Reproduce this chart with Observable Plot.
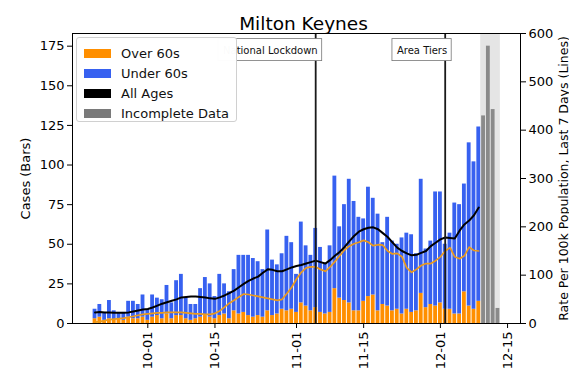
<!DOCTYPE html>
<html>
<head>
<meta charset="utf-8">
<script src="https://cdn.jsdelivr.net/npm/d3@7"></script>
<script src="https://cdn.jsdelivr.net/npm/@observablehq/plot@0.6"></script>
<style>
  body { margin: 0; background: #fff; font-family: "DejaVu Sans", sans-serif; }
  #wrap { position: relative; width: 569px; height: 375px; }
  #legend { position: absolute; left: 76px; top: 37px; width: 161px; height: 85px;
    background: rgba(255,255,255,0.98); border: 1px solid #d0d0d0; border-radius: 3px;
    box-sizing: border-box; font-size: 13px; color: #111; }
  .item { position: absolute; left: 7px; height: 14px; display: flex; align-items: center; white-space: nowrap; }
  .sw { width: 27px; height: 9px; margin-right: 10px; }
</style>
</head>
<body>
<div id="wrap"><div id="legend"></div></div>
<script>
// ---- data ----
const startDate = "2020-09-20";   // first daily bar
const totalCases = [
  9, 12, 7, 14.5, 8, 7, 7, 14, 14, 12,
  18, 9, 18, 16, 15, 24, 13, 27, 31, 16,
  12, 12, 22, 29, 25, 17, 31, 25, 20, 34,
  43, 43, 43, 41, 39, 34, 59, 40, 37, 44,
  55, 51, 31, 64, 49, 43, 60, 48, 38, 49,
  93, 61, 75, 91, 77, 67, 66, 86, 79, 69,
  51, 67, 52, 50, 54, 57, 56, 44, 91, 47,
  52, 83, 83, 50, 57, 76, 75, 88, 114, 102,
  124];
const over60Cases = [
  3, 4, 2, 3, 2, 3, 2, 4, 3, 3,
  4, 2, 4, 5, 3, 6, 3, 5, 5, 3,
  2, 3, 4, 5, 4, 3, 5, 6, 3, 8,
  6, 7, 5, 4, 5, 4, 8, 5, 6, 9,
  8, 9, 7, 13, 11, 8, 10, 7, 6, 7,
  22, 16, 14.5, 13, 8, 8, 14, 17, 18, 8,
  12, 11, 8, 9, 6, 9, 7, 8, 19, 10,
  12, 11, 13, 9, 9, 6, 6, 20, 11, 9,
  14];
const rateAllAges = [
  23, 24, 23, 23, 22, 22, 22, 23, 25, 27,
  29, 30, 33, 37, 41, 44, 47, 50, 54, 55,
  56, 56, 55, 54, 52, 51, 54, 58, 63, 68,
  75, 82, 88, 93, 97, 105, 112, 111, 108, 108,
  112, 116, 119, 121, 124, 127, 130, 127, 124, 131,
  140, 148, 158, 170, 181, 190, 195, 198, 199, 195,
  187, 179, 168, 157, 150, 145, 141, 142, 146, 150,
  160, 167, 174, 178, 177, 176, 192, 205, 213, 224,
  240];
const rateOver60 = [
  3, 4, 6, 8, 9, 10, 11, 13, 15, 17,
  19, 20, 21, 22, 22, 23, 23, 23, 23, 22,
  21, 20, 20, 19, 19, 21, 26, 34, 42, 48,
  55, 61, 60, 58, 56, 54, 52, 50, 48, 50,
  62, 75, 92, 106, 115, 117, 117, 112, 108, 117,
  128, 140, 152, 160, 165, 168, 172, 168, 161, 163,
  162, 150, 144, 145, 138, 115, 106, 112, 120, 124,
  124, 130, 138, 150, 157, 138, 134, 140, 158, 151,
  150];
const incompleteDates = ["2020-12-10", "2020-12-11", "2020-12-12", "2020-12-13"];
const incompleteCases = [131, 175, 135, 9.5];
const eventDates = ["2020-11-05", "2020-12-02"];
const eventLabels = ["National Lockdown", "Area Tiers"];
const xTickDates = ["2020-10-01", "2020-10-15", "2020-11-01", "2020-11-15", "2020-12-01", "2020-12-15"];
const leftTicks = [0, 25, 50, 75, 100, 125, 150, 175];
const rightTicks = [0, 100, 200, 300, 400, 500, 600];
const legendLabels = ["Over 60s", "Under 60s", "All Ages", "Incomplete Data"];
const legendColors = ["#ff8f00", "#3761f0", "#000000", "#7a7a7a"];

// ---- build ----
const parse = d3.utcParse("%Y-%m-%d");
const DAY = 864e5;
const yMax = 183;            // left axis top
const rightMax = 600;        // right axis top
const K = yMax / rightMax;   // right -> left scale factor
const half = 0.4 * DAY;

const start = parse(startDate);
const daily = totalCases.map((t, i) => ({
  date: new Date(+start + i * DAY), total: t, over: over60Cases[i],
  all: rateAllAges[i], o60: rateOver60[i]
}));
const incomplete = incompleteDates.map((d, i) => ({ date: parse(d), total: incompleteCases[i] }));
const events = eventDates.map((d, i) => ({ date: parse(d), label: eventLabels[i] }));
const span = [{ x1: new Date(+parse(incompleteDates[0]) - 0.6 * DAY), x2: new Date(+parse(incompleteDates[3]) + 0.5 * DAY) }];

const x1 = d => new Date(+d.date - half);
const x2 = d => new Date(+d.date + half);

const chart = Plot.plot({
  width: 569, height: 375,
  marginLeft: 72, marginRight: 49, marginTop: 33, marginBottom: 52,
  style: { fontFamily: "'DejaVu Sans', sans-serif", fontSize: "13px", color: "#000", background: "#fff", overflow: "visible" },
  x: { type: "utc", domain: [new Date(+parse("2020-09-15") + 0.3 * DAY), new Date(+parse("2020-12-17") + 0.7 * DAY)] },
  y: { domain: [0, yMax] },
  marks: [
    Plot.rect(span, { x1: "x1", x2: "x2", y1: 0, y2: yMax, fill: "#cfcfcf", fillOpacity: 0.55 }),
    Plot.rect(daily, { x1, x2, y1: 0, y2: "over", fill: legendColors[0] }),
    Plot.rect(daily, { x1, x2, y1: "over", y2: "total", fill: legendColors[1] }),
    Plot.rect(incomplete, { x1, x2, y1: 0, y2: "total", fill: "#8a8a8a" }),
    Plot.line(daily, { x: "date", y: d => d.o60 * K, stroke: "#eb9a1c", strokeWidth: 1.7 }),
    Plot.line(daily, { x: "date", y: d => d.all * K, stroke: "#000", strokeWidth: 2 }),
    Plot.ruleX(events, { x: "date", stroke: "#1a1a1a", strokeWidth: 1.8 }),
    Plot.text(events, { x: "date", text: "label", frameAnchor: "top", dy: 13, dx: 2, textAnchor: "end", fontSize: 10, fill: "#111" }),
    Plot.frame({ stroke: "#000" }),
    Plot.axisY(leftTicks, { anchor: "left", tickSize: 5, tickPadding: 3, label: null }),
    Plot.axisY(rightTicks.map(t => t * K), { anchor: "right", tickSize: 5, tickPadding: 3, tickFormat: d => String(Math.round(d / K)), label: null }),
    Plot.axisX(xTickDates.map(parse), { tickRotate: -90, tickSize: 5, tickPadding: 3, tickFormat: d3.utcFormat("%m-%d"), label: null }),
    Plot.text(["Milton Keynes"], { frameAnchor: "top", dy: -17, dx: 7, fontSize: 18.5 }),
    Plot.text(["Cases (Bars)"], { frameAnchor: "left", textAnchor: "middle", rotate: -90, dx: -47, fontSize: 13 }),
    Plot.text(["Rate Per 100k Population, Last 7 Days (Lines)"], { frameAnchor: "right", textAnchor: "middle", rotate: -90, dx: 43, fontSize: 12.5 })
  ]
});

const wrap = document.getElementById("wrap");
wrap.insertBefore(chart, wrap.firstChild);

// boxes behind event labels
d3.select(chart).selectAll("text").filter(function () {
  return eventLabels.includes(this.textContent);
}).each(function () {
  const node = this;
  const b = node.getBBox();
  const tr = node.getAttribute("transform");
  const r = d3.select(node.parentNode).insert("rect", () => node)
    .attr("x", b.x - 5).attr("y", b.y - 6)
    .attr("width", b.width + 9).attr("height", b.height + 11)
    .attr("fill", "#fff").attr("stroke", "#777").attr("stroke-width", 0.8);
  if (tr) r.attr("transform", tr);
});

// legend
const legend = d3.select("#legend");
legendLabels.forEach((lab, i) => {
  const it = legend.append("div").attr("class", "item").style("top", (8 + i * 20) + "px");
  it.append("div").attr("class", "sw").style("background", legendColors[i]);
  it.append("span").text(lab);
});
</script>
</body>
</html>
